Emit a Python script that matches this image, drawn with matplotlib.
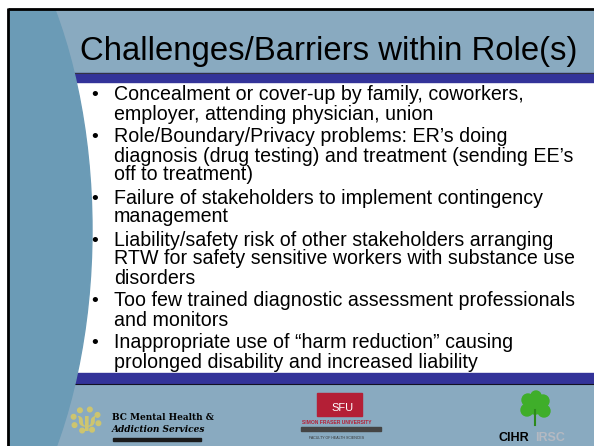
import matplotlib.pyplot as plt
from matplotlib.patches import Rectangle, Ellipse, Circle
import numpy as np

# slide content
title = 'Challenges/Barriers within Role(s)'
bullets = [
    ['Concealment or cover-up by family, coworkers,',
     'employer, attending physician, union'],
    ['Role/Boundary/Privacy problems: ER\u2019s doing',
     'diagnosis (drug testing) and treatment (sending EE\u2019s',
     'off to treatment)'],
    ['Failure of stakeholders to implement contingency',
     'management'],
    ['Liability/safety risk of other stakeholders arranging',
     'RTW for safety sensitive workers with substance use',
     'disorders'],
    ['Too few trained diagnostic assessment professionals',
     'and monitors'],
    ['Inappropriate use of \u201charm reduction\u201d causing',
     'prolonged disability and increased liability'],
]
bc_logo = ['BC Mental Health &', 'Addiction Services']
sfu_logo = ['SFU', 'SIMON FRASER UNIVERSITY', 'FACULTY OF HEALTH SCIENCES']
cihr_logo = ['CIHR', 'IRSC']

light = '#89aac0'
dark = '#6b9bb6'
stripe = '#333399'
font = 'Liberation Sans'

W, H = 594, 446
fig = plt.figure(figsize=(W / 100, H / 100), dpi=100)
ax = fig.add_axes([0, 0, 1, 1])
ax.set_xlim(0, W)
ax.set_ylim(H, 0)
ax.axis('off')

# background panels, all inside the slide frame
frame = Rectangle((7.5, 8.8), W, H, color=light, zorder=0)
ax.add_patch(frame)
parts = [
    Rectangle((0, 82), W, 291, color='white', zorder=1),
    Rectangle((0, 73), W, 9, color=stripe, zorder=2),
    Rectangle((0, 373), W, 10, color=stripe, zorder=2),
    Ellipse((-100, 230), 384, 746, color=dark, zorder=3),
]
for p in parts:
    ax.add_patch(p)
    p.set_clip_path(frame)
ax.plot([8, W], [72.5, 72.5], color='#333344', lw=0.8, zorder=2)
ax.plot([8, W], [383.5, 383.5], color='#111122', lw=0.8, zorder=2)
# frame lines
ax.plot([7.5, W], [8.8, 8.8], color='black', lw=2, zorder=5, solid_capstyle='butt')
ax.plot([7.5, 7.5], [8, H], color='black', lw=2, zorder=5, solid_capstyle='butt')

# title
ax.text(80, 60, title, fontsize=23.7, family=font, color='black',
        va='baseline', ha='left', zorder=6)

# bullet list
y = 100.5
line_step = 19
item_gap = 23
for item in bullets:
    ax.text(95, y, '\u2022', fontsize=14, family=font, va='baseline', ha='center', zorder=6)
    for k, line in enumerate(item):
        ax.text(114, y + k * line_step, line, fontsize=14.1, family=font,
                va='baseline', ha='left', zorder=6)
    y += (len(item) - 1) * line_step + item_gap

# BC Mental Health logo
cx, cy = 86, 420
for a in np.linspace(0, 2 * np.pi, 9)[:-1] + 0.3:
    ax.add_patch(Circle((cx + 13 * np.cos(a), cy + 11 * np.sin(a)), 2.3,
                        color='#cdc56f', zorder=6))
ax.text(cx, cy + 1, '\u03c8', fontsize=15, color='#cdc56f', ha='center', va='center',
        family='DejaVu Serif', fontweight='bold', zorder=6)
ax.text(112, 420, bc_logo[0], fontsize=6.5, family='DejaVu Serif', fontweight='bold',
        va='baseline', zorder=6)
ax.text(112, 432, bc_logo[1], fontsize=6.5, family='DejaVu Serif', fontweight='bold',
        style='italic', va='baseline', zorder=6)
ax.add_patch(Rectangle((113, 438), 88, 2.5, color='#1a1a1a', zorder=6))

# SFU logo
ax.add_patch(Rectangle((317, 393), 45, 23, color='#b41f36', zorder=6))
ax.text(354, 411, sfu_logo[0], fontsize=8, family=font, color='white',
        ha='right', va='baseline', zorder=7)
ax.text(337, 424, sfu_logo[1], fontsize=3.6, family=font, color='#b41f36',
        fontweight='bold', ha='center', va='baseline', zorder=7)
ax.add_patch(Rectangle((301, 427), 80, 4, color='#444444', zorder=6))
ax.text(337, 439, sfu_logo[2], fontsize=2.6, family=font, color='#333333',
        ha='center', va='baseline', zorder=7)

# CIHR logo
for dx, dy, r in [(535, 405, 9), (528, 400, 6), (543, 401, 6), (527, 410, 6),
                  (544, 411, 6), (536, 396, 5)]:
    ax.add_patch(Circle((dx, dy), r, color='#3fae2a', zorder=6))
ax.plot([535, 535], [410, 425], color='#2c8a1c', lw=1.5, zorder=6)
ax.text(529, 441, cihr_logo[0], fontsize=9, family=font, fontweight='bold',
        color='black', ha='right', va='baseline', zorder=7)
ax.text(535, 441, cihr_logo[1], fontsize=9, family=font, fontweight='bold',
        color='#b4b9c2', ha='left', va='baseline', zorder=7)

fig.savefig('out.png', dpi=100)
